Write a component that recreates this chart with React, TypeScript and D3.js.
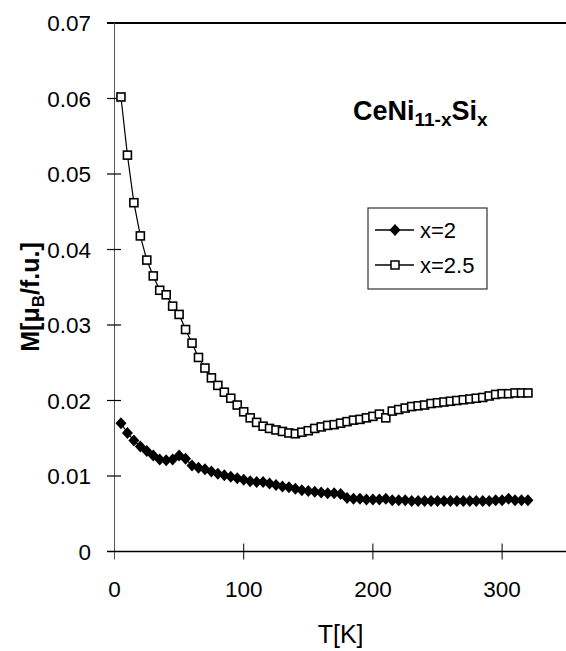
import React from "react";
import * as d3 from "d3";

const temps: number[] = [
  5, 10, 15, 20, 25, 30, 35, 40, 45, 50, 55, 60, 65, 70, 75, 80, 85, 90, 95, 100,
  105, 110, 115, 120, 125, 130, 135, 140, 145, 150, 155, 160, 165, 170, 175, 180,
  185, 190, 195, 200, 205, 210, 215, 220, 225, 230, 235, 240, 245, 250, 255, 260,
  265, 270, 275, 280, 285, 290, 295, 300, 305, 310, 315, 320,
];

const mX2: number[] = [
  0.0170, 0.0157, 0.0147, 0.0139, 0.0133, 0.0127, 0.0122, 0.0121, 0.0122, 0.0127,
  0.0123, 0.0114, 0.0111, 0.0109, 0.0106, 0.0103, 0.0101, 0.0099, 0.0097, 0.0095,
  0.0093, 0.0092, 0.0092, 0.0090, 0.0088, 0.0086, 0.0085, 0.0083, 0.0081, 0.0080,
  0.0079, 0.0078, 0.0077, 0.0077, 0.0076, 0.0071, 0.0070, 0.0070, 0.0069, 0.0069,
  0.0069, 0.0070, 0.0068, 0.0068, 0.0068, 0.0067, 0.0067, 0.0067, 0.0067, 0.0067,
  0.0067, 0.0067, 0.0067, 0.0067, 0.0067, 0.0067, 0.0067, 0.0067, 0.0068, 0.0068,
  0.0070, 0.0068, 0.0068, 0.0068,
];

const mX25: number[] = [
  0.0602, 0.0525, 0.0462, 0.0418, 0.0386, 0.0365, 0.0346, 0.0340, 0.0325, 0.0314,
  0.0294, 0.0276, 0.0257, 0.0243, 0.0230, 0.0220, 0.0211, 0.0203, 0.0194, 0.0185,
  0.0177, 0.0171, 0.0166, 0.0163, 0.0161, 0.0159, 0.0157, 0.0156, 0.0158, 0.0160,
  0.0163, 0.0165, 0.0167, 0.0168, 0.0170, 0.0172, 0.0174, 0.0175, 0.0177, 0.0179,
  0.0182, 0.0177, 0.0186, 0.0188, 0.0190, 0.0192, 0.0193, 0.0194, 0.0196, 0.0197,
  0.0198, 0.0199, 0.0200, 0.0201, 0.0202, 0.0203, 0.0204, 0.0206, 0.0208, 0.0209,
  0.0209, 0.0210, 0.0210, 0.0210,
];

const xTicks: number[] = [0, 100, 200, 300];
const yTicks: number[] = [0, 0.01, 0.02, 0.03, 0.04, 0.05, 0.06, 0.07];
const yTickLabels: string[] = ["0", "0.01", "0.02", "0.03", "0.04", "0.05", "0.06", "0.07"];
const legendLabels: string[] = ["x=2", "x=2.5"];

const W = 566;
const H = 651;
const left = 114.5;
const right = 566.7;
const top = 23;
const bottom = 551.5;
const FONT = "'Liberation Sans', Arial, Helvetica, sans-serif";
const DIAMOND = "M0,-6L5.5,0L0,6L-5.5,0Z";

export default function App() {
  const x = d3.scaleLinear().domain([0, 350]).range([left, right]);
  const y = d3.scaleLinear().domain([0, 0.07]).range([bottom, top]);

  const line = d3
    .line<[number, number]>()
    .x((d) => x(d[0]))
    .y((d) => y(d[1]));

  const d2: [number, number][] = temps.map((t, i) => [t, mX2[i]]);
  const d25: [number, number][] = temps.map((t, i) => [t, mX25[i]]);

  return (
    <svg
      width={W}
      height={H}
      style={{ position: "absolute", left: 0, top: 0, background: "#fff" }}
      fontFamily={FONT}
    >
      <rect x={0} y={0} width={W} height={H} fill="#fff" />
      {/* frame top */}
      <line x1={107} x2={W} y1={y(0.07)} y2={y(0.07)} stroke="#000" strokeWidth={2} />
      {/* y axis */}
      <line x1={left} x2={left} y1={top} y2={bottom + 8} stroke="#555" strokeWidth={1} />
      {/* x axis */}
      <line x1={107} x2={W} y1={bottom} y2={bottom} stroke="#000" strokeWidth={1.5} />
      {yTicks.map((v, i) => (
        <g key={"yt" + i}>
          {i > 0 && i < yTicks.length - 1 && (
            <line x1={107} x2={121} y1={y(v)} y2={y(v)} stroke="#000" strokeWidth={1.2} />
          )}
          <text
            x={91}
            y={y(v)}
            dy="0.36em"
            textAnchor="end"
            fontSize={22.5}
            fill="#000"
          >
            {yTickLabels[i]}
          </text>
        </g>
      ))}
      {xTicks.map((v, i) => (
        <g key={"xt" + i}>
          {i > 0 && (
            <line x1={x(v)} x2={x(v)} y1={bottom - 8} y2={bottom + 8} stroke="#000" strokeWidth={1} />
          )}
          <text x={x(v)} y={597} textAnchor="middle" fontSize={22.5} fill="#000">
            {v}
          </text>
        </g>
      ))}
      <text x={(left + right) / 2} y={643} textAnchor="middle" fontSize={25} fill="#000">
        T[K]
      </text>
      <text
        transform={`translate(39, ${297}) rotate(-90)`}
        textAnchor="middle"
        fontSize={25}
        fontWeight="bold"
        fill="#000"
      >
        M[μ<tspan fontSize={17} dy={5}>B</tspan>
        <tspan dy={-5}>/f.u.]</tspan>
      </text>
      <text x={353} y={120} fontSize={27} fontWeight="bold" fill="#000">
        CeNi<tspan fontSize={19} dy={6}>11-x</tspan>
        <tspan dy={-6}>Si</tspan>
        <tspan fontSize={19} dy={6}>x</tspan>
      </text>

      {/* series x=2.5 */}
      <path d={line(d25) || ""} fill="none" stroke="#000" strokeWidth={1.2} />
      {d25.map((d, i) => (
        <rect
          key={"s" + i}
          x={x(d[0]) - 4}
          y={y(d[1]) - 4}
          width={8}
          height={8}
          fill="#fff"
          stroke="#000"
          strokeWidth={1.6}
        />
      ))}
      {/* series x=2 */}
      <path d={line(d2) || ""} fill="none" stroke="#000" strokeWidth={1.2} />
      {d2.map((d, i) => (
        <path
          key={"d" + i}
          d={DIAMOND}
          transform={`translate(${x(d[0])},${y(d[1])})`}
          fill="#000"
        />
      ))}

      {/* legend */}
      <rect x={368} y={208} width={119} height={81} fill="#fff" stroke="#333" strokeWidth={1.2} />
      <line x1={375} x2={414} y1={230} y2={230} stroke="#000" strokeWidth={1.5} />
      <path d={DIAMOND} transform="translate(395,230)" fill="#000" />
      <text x={420} y={238} fontSize={22} fill="#000">
        {legendLabels[0]}
      </text>
      <line x1={375} x2={414} y1={265} y2={265} stroke="#000" strokeWidth={1.5} />
      <rect x={391} y={261} width={8} height={8} fill="#fff" stroke="#000" strokeWidth={1.5} />
      <text x={420} y={273} fontSize={22} fill="#000">
        {legendLabels[1]}
      </text>
    </svg>
  );
}
